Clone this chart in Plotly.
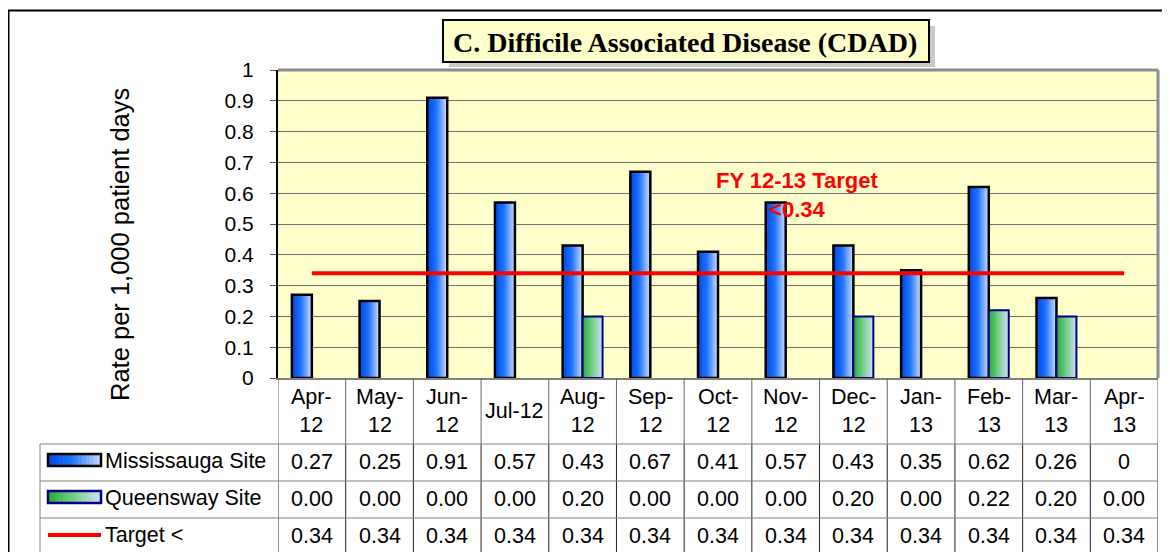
import plotly.graph_objects as go

# ---------------- data ----------------
months = ["Apr-12", "May-12", "Jun-12", "Jul-12", "Aug-12", "Sep-12", "Oct-12",
          "Nov-12", "Dec-12", "Jan-13", "Feb-13", "Mar-13", "Apr-13"]
month_labels = ["Apr-<br>12", "May-<br>12", "Jun-<br>12", "Jul-12", "Aug-<br>12", "Sep-<br>12",
                "Oct-<br>12", "Nov-<br>12", "Dec-<br>12", "Jan-<br>13", "Feb-<br>13",
                "Mar-<br>13", "Apr-<br>13"]
mississauga = [0.27, 0.25, 0.91, 0.57, 0.43, 0.67, 0.41, 0.57, 0.43, 0.35, 0.62, 0.26, 0]
queensway = [0.00, 0.00, 0.00, 0.00, 0.20, 0.00, 0.00, 0.00, 0.20, 0.00, 0.22, 0.20, 0.00]
target = [0.34, 0.34, 0.34, 0.34, 0.34, 0.34, 0.34, 0.34, 0.34, 0.34, 0.34, 0.34, 0.34]
series_names = ["Mississauga Site", "Queensway Site", "Target &lt;"]
title_text = "C. Difficile Associated Disease (CDAD)"
y_title = "Rate per 1,000 patient days"
note_text = "FY 12-13 Target<br>&lt;0.34"

# ---------------- geometry (page pixels; page has an 8px body margin) ----------------
OFF = 8
W, H = 1170 - OFF, 552 - OFF
L, R, T, B = 278, 1158, 70, 378   # plot area in page pixels


def px(x):
    return (x - L) / (R - L)


def py(y):
    return (B - y) / (B - T)


SANS = "Liberation Sans, Arial, sans-serif"
SERIF = "Liberation Serif, Times New Roman, serif"
FS = 21.5

miss_stops = [(0.0, (0, 72, 230)), (0.45, (30, 115, 255)), (1.0, (205, 222, 255))]
queen_stops = [(0.0, (40, 170, 50)), (0.45, (110, 205, 130)), (1.0, (210, 222, 250))]


def grad(stops, t):
    for (t0, c0), (t1, c1) in zip(stops[:-1], stops[1:]):
        if t <= t1:
            f = (t - t0) / (t1 - t0) if t1 > t0 else 0
            c = [round(a + (b - a) * f) for a, b in zip(c0, c1)]
            return "rgb(%d,%d,%d)" % tuple(c)
    return "rgb(%d,%d,%d)" % stops[-1][1]


fig = go.Figure()

BW = 0.295
N = 16
for vals, off, stops, lc, lw in [(mississauga, -BW, miss_stops, "black", 2.5),
                                 (queensway, 0.0, queen_stops, "#000080", 2)]:
    vplot = [v if v > 0 else None for v in vals]
    for i in range(N):
        t = (i + 0.5) / N
        fig.add_trace(go.Bar(x=months, y=vplot, width=BW * (N - i) / N, offset=off + BW * i / N,
                             marker=dict(color=grad(stops, t), line=dict(width=0)),
                             showlegend=False, hoverinfo="skip"))
    fig.add_trace(go.Bar(x=months, y=vplot, width=BW, offset=off,
                         marker=dict(color="rgba(0,0,0,0)", line=dict(color=lc, width=lw)),
                         showlegend=False, hoverinfo="skip"))

fig.add_trace(go.Scatter(x=months, y=target, mode="lines",
                         line=dict(color="#FF0000", width=4), showlegend=False, hoverinfo="skip"))

shapes = []
ann = []

# plot area top/right border
shapes.append(dict(type="line", xref="paper", yref="paper", x0=0, x1=1, y0=1, y1=1,
                   line=dict(color="#8c8c8c", width=3)))
shapes.append(dict(type="line", xref="paper", yref="paper", x0=1, x1=1, y0=0, y1=1,
                   line=dict(color="#8c8c8c", width=3)))

# outer frame
shapes.append(dict(type="line", xref="paper", yref="paper", x0=px(8.5), x1=px(8.5), y0=py(10), y1=py(560),
                   line=dict(color="black", width=2)))
shapes.append(dict(type="line", xref="paper", yref="paper", x0=px(7), x1=px(1180), y0=py(10.5), y1=py(10.5),
                   line=dict(color="black", width=2)))

# data table: vertical column lines (category row lighter, value rows darker)
for k in range(len(months) + 1):
    shapes.append(dict(type="line", xref="x", yref="paper", x0=k - 0.5, x1=k - 0.5,
                       y0=py(B), y1=py(444), line=dict(color="#666666", width=1)))
    shapes.append(dict(type="line", xref="x", yref="paper", x0=k - 0.5, x1=k - 0.5,
                       y0=py(444), y1=py(560), line=dict(color="#222222", width=1)))
# legend column left border
shapes.append(dict(type="line", xref="paper", yref="paper", x0=px(40), x1=px(40),
                   y0=py(444), y1=py(560), line=dict(color="#808080", width=1)))
# horizontal lines
for yy in [444, 481, 518]:
    shapes.append(dict(type="line", xref="paper", yref="paper", x0=px(40), x1=1,
                       y0=py(yy), y1=py(yy), line=dict(color="#808080", width=1)))

# legend keys
KN = 14
for (y0, y1), stops, lc in [((454, 466), miss_stops, "black"), ((491, 503), queen_stops, "#000080")]:
    kx0, kx1 = 48, 101
    for i in range(KN):
        a = kx0 + (kx1 - kx0) * i / KN
        b = kx0 + (kx1 - kx0) * (i + 1) / KN
        shapes.append(dict(type="rect", xref="paper", yref="paper", x0=px(a), x1=px(b + 0.5),
                           y0=py(y1), y1=py(y0), fillcolor=grad(stops, (i + 0.5) / KN),
                           line=dict(width=0)))
    shapes.append(dict(type="rect", xref="paper", yref="paper", x0=px(kx0), x1=px(kx1),
                       y0=py(y1), y1=py(y0), fillcolor="rgba(0,0,0,0)", line=dict(color=lc, width=2.5)))
shapes.append(dict(type="line", xref="paper", yref="paper", x0=px(48), x1=px(101),
                   y0=py(535), y1=py(535), line=dict(color="#FF0000", width=4)))

# title box with shadow
shapes.append(dict(type="rect", xref="paper", yref="paper", x0=px(449), x1=px(935), y0=py(67), y1=py(26),
                   fillcolor="#C8C8C8", line=dict(width=0)))
shapes.append(dict(type="rect", xref="paper", yref="paper", x0=px(443), x1=px(929), y0=py(62), y1=py(20),
                   fillcolor="#FFFFCC", line=dict(color="black", width=2)))
ann.append(dict(xref="paper", yref="paper", x=px(685), y=py(42), text="<b>%s</b>" % title_text,
                showarrow=False, xanchor="center", yanchor="middle",
                font=dict(family=SERIF, size=28, color="black")))

# y-axis title
ann.append(dict(xref="paper", yref="paper", x=px(120), y=py(245), text=y_title, textangle=-90,
                showarrow=False, xanchor="center", yanchor="middle",
                font=dict(family=SANS, size=25.5, color="black")))

# target note
ann.append(dict(xref="paper", yref="paper", x=px(797), y=py(195), text="<b>%s</b>" % note_text,
                showarrow=False, xanchor="center", yanchor="middle",
                font=dict(family=SANS, size=22, color="#FF0000")))

# category labels
for i, lab in enumerate(month_labels):
    ann.append(dict(xref="x", yref="paper", x=i, y=py(411), text=lab, showarrow=False,
                    xanchor="center", yanchor="middle", font=dict(family=SANS, size=FS, color="black")))

# legend labels
for name, yc in zip(series_names, [461, 498, 535]):
    ann.append(dict(xref="paper", yref="paper", x=px(103), y=py(yc), text=name, showarrow=False,
                    xanchor="left", yanchor="middle", font=dict(family=SANS, size=FS, color="black")))

# table values
rows = [([("%g" % v) for v in mississauga], 462),
        ([("%.2f" % v) for v in queensway], 499),
        ([("%.2f" % v) for v in target], 536)]
for texts, yc in rows:
    for i, tx in enumerate(texts):
        ann.append(dict(xref="x", yref="paper", x=i, y=py(yc), text=tx, showarrow=False,
                        xanchor="center", yanchor="middle", font=dict(family=SANS, size=FS, color="black")))

fig.update_layout(
    width=W, height=H,
    margin=dict(l=L - OFF, r=W - (R - OFF), t=T - OFF, b=H - (B - OFF), pad=0),
    barmode="overlay",
    plot_bgcolor="#FFFFCC", paper_bgcolor="white",
    shapes=shapes, annotations=ann, showlegend=False,
    xaxis=dict(type="category", range=[-0.5, len(months) - 0.5], showticklabels=False,
               showgrid=False, zeroline=False, showline=True, linecolor="#808080", linewidth=2,
               ticks=""),
    yaxis=dict(range=[0, 1], tick0=0, dtick=0.1, showgrid=True, gridcolor="#707070", gridwidth=1,
               zeroline=False, showline=True, linecolor="black", linewidth=2,
               ticks="outside", ticklen=6, tickcolor="#555555", ticklabelstandoff=12,
               tickfont=dict(family=SANS, size=21, color="black")),
)

fig.write_html("out.html")
